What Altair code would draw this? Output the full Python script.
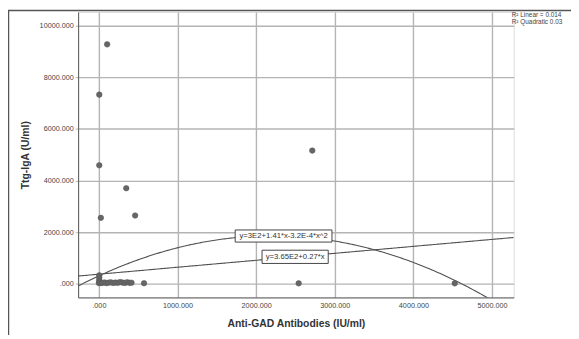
import altair as alt
import pandas as pd

# scatter data
gad_x = [105, 5, 5, 348, 25, 461, 2714, 2541, 4526, 574,
         5, 5, 3, 0, 12, 25, 45, 70, 95, 120, 150, 180, 210,
         240, 270, 300, 330, 360, 390, 415]
ttg_y = [9280, 7330, 4590, 3700, 2550, 2640, 5160, 10, 10, 15,
         320, 230, 120, 20, 40, 25, 30, 45, 20, 35, 50, 25, 40,
         30, 60, 40, 25, 55, 30, 35]

# fit coefficients as printed on the chart
lin_coef = [365.0, 0.27]
quad_coef = [300.0, 1.41, -3.2e-4]
fit_labels = ["y=3E2+1.41*x-3.2E-4*x^2", "y=3.65E2+0.27*x"]
fit_label_x = [2349, 2496]
r2_texts = ["R\u00b2 Linear = 0.014", "R\u00b2 Quadratic 0.03"]

x_ticks = [0, 1000, 2000, 3000, 4000, 5000]
y_ticks = [0, 2000, 4000, 6000, 8000, 10000]
x_dom = [-264, 5276]
y_dom = [-536, 10536]

pts = pd.DataFrame({"x": gad_x, "y": ttg_y})

label_fmt = "datum.value == 0 ? '.000' : format(datum.value, '.3f')"

xs = alt.Scale(domain=x_dom, nice=False, zero=False)
ys = alt.Scale(domain=y_dom, nice=False, zero=False)

x_axis = alt.Axis(values=x_ticks, labelExpr=label_fmt, title="Anti-GAD Antibodies (IU/ml)",
                  grid=True, gridColor="#b4b4b4", gridWidth=1.4, ticks=False,
                  domainColor="#555555", labelFontSize=7.3, labelColor="#444444",
                  labelPadding=4, titleFontSize=10.5, titleFont="Liberation Sans",
                  titleFontWeight="bold", titleColor="#333333", titlePadding=10,
                  labelFont="Liberation Sans")
y_axis = alt.Axis(values=y_ticks, labelExpr=label_fmt, title="Ttg-IgA (U/ml)",
                  grid=True, gridColor="#b4b4b4", gridWidth=1.4, ticks=True, tickSize=3,
                  tickColor="#b4b4b4", domainColor="#555555", labelFontSize=7.3,
                  labelColor="#444444", labelPadding=2, titleFontSize=10.5,
                  titleFont="Liberation Sans", titleFontWeight="bold", titleColor="#333333",
                  titlePadding=9, labelFont="Liberation Sans")

points = alt.Chart(pts).mark_circle(size=32, color="#666666", opacity=1, stroke="#555555",
                                    strokeWidth=0.5).encode(
    x=alt.X("x:Q", scale=xs, axis=x_axis),
    y=alt.Y("y:Q", scale=ys, axis=y_axis),
)

seq = alt.Chart(alt.sequence(x_dom[0], x_dom[1] + 20, 20, as_="x"))

lin_line = seq.transform_calculate(
    y=f"{lin_coef[0]} + {lin_coef[1]} * datum.x"
).mark_line(color="#505050", strokeWidth=1.1, clip=True).encode(
    x=alt.X("x:Q", scale=xs), y=alt.Y("y:Q", scale=ys))

quad_line = seq.transform_calculate(
    y=f"{quad_coef[0]} + {quad_coef[1]} * datum.x + ({quad_coef[2]}) * datum.x * datum.x"
).mark_line(color="#505050", strokeWidth=1.1, clip=True).encode(
    x=alt.X("x:Q", scale=xs), y=alt.Y("y:Q", scale=ys))

# label anchors sit on the fitted curves
lab_df = pd.DataFrame({
    "x": fit_label_x,
    "y": [quad_coef[0] + quad_coef[1] * fit_label_x[0] + quad_coef[2] * fit_label_x[0] ** 2,
          lin_coef[0] + lin_coef[1] * fit_label_x[1]],
    "t": fit_labels,
    "k": ["q", "l"],
})

box_q = alt.Chart(lab_df[lab_df.k == "q"]).mark_point(
    shape="M-1,-0.125H1V0.125H-1Z", size=98 * 98, filled=True, fill="white",
    stroke="#444444", strokeWidth=1, opacity=1).encode(
    x=alt.X("x:Q", scale=xs), y=alt.Y("y:Q", scale=ys))
box_l = alt.Chart(lab_df[lab_df.k == "l"]).mark_point(
    shape="M-1,-0.2H1V0.2H-1Z", size=67 * 67, filled=True, fill="white",
    stroke="#444444", strokeWidth=1, opacity=1).encode(
    x=alt.X("x:Q", scale=xs), y=alt.Y("y:Q", scale=ys))

lab_text = alt.Chart(lab_df).mark_text(font="Liberation Sans", fontSize=7.8,
                                       color="#333333", baseline="middle").encode(
    x=alt.X("x:Q", scale=xs), y=alt.Y("y:Q", scale=ys), text="t:N")

r2_layers = []
for i, t in enumerate(r2_texts):
    r2_layers.append(
        alt.Chart(pd.DataFrame({"t": [t]})).mark_text(
            font="Liberation Sans", fontSize=6.5, color="#444444",
            align="left", baseline="top", clip=False).encode(
            x=alt.value(518 - 79), y=alt.value(0 + 7 * i), text="t:N"))

# outer frame of the output panel (left and top edges)
frame_left = alt.Chart(pd.DataFrame({"a": [0]})).mark_rule(
    color="#555555", strokeWidth=1.5, clip=False).encode(
    x=alt.value(-70.5), y=alt.value(-2), y2=alt.value(330))
frame_top = alt.Chart(pd.DataFrame({"a": [0]})).mark_rule(
    color="#555555", strokeWidth=1.5, clip=False).encode(
    x=alt.value(-71), x2=alt.value(510), y=alt.value(-1.5))

chart = alt.layer(lin_line, quad_line, box_q, box_l, lab_text, points, *r2_layers,
                  frame_left, frame_top).properties(
    width=441, height=289,
    autosize=alt.AutoSizeParams(type="none"),
    padding={"left": 71, "top": 2, "right": 58, "bottom": 36},
).configure_view(stroke=None).configure(background="white")

chart.save("out.html", embed_options={"renderer": "svg", "actions": False})
